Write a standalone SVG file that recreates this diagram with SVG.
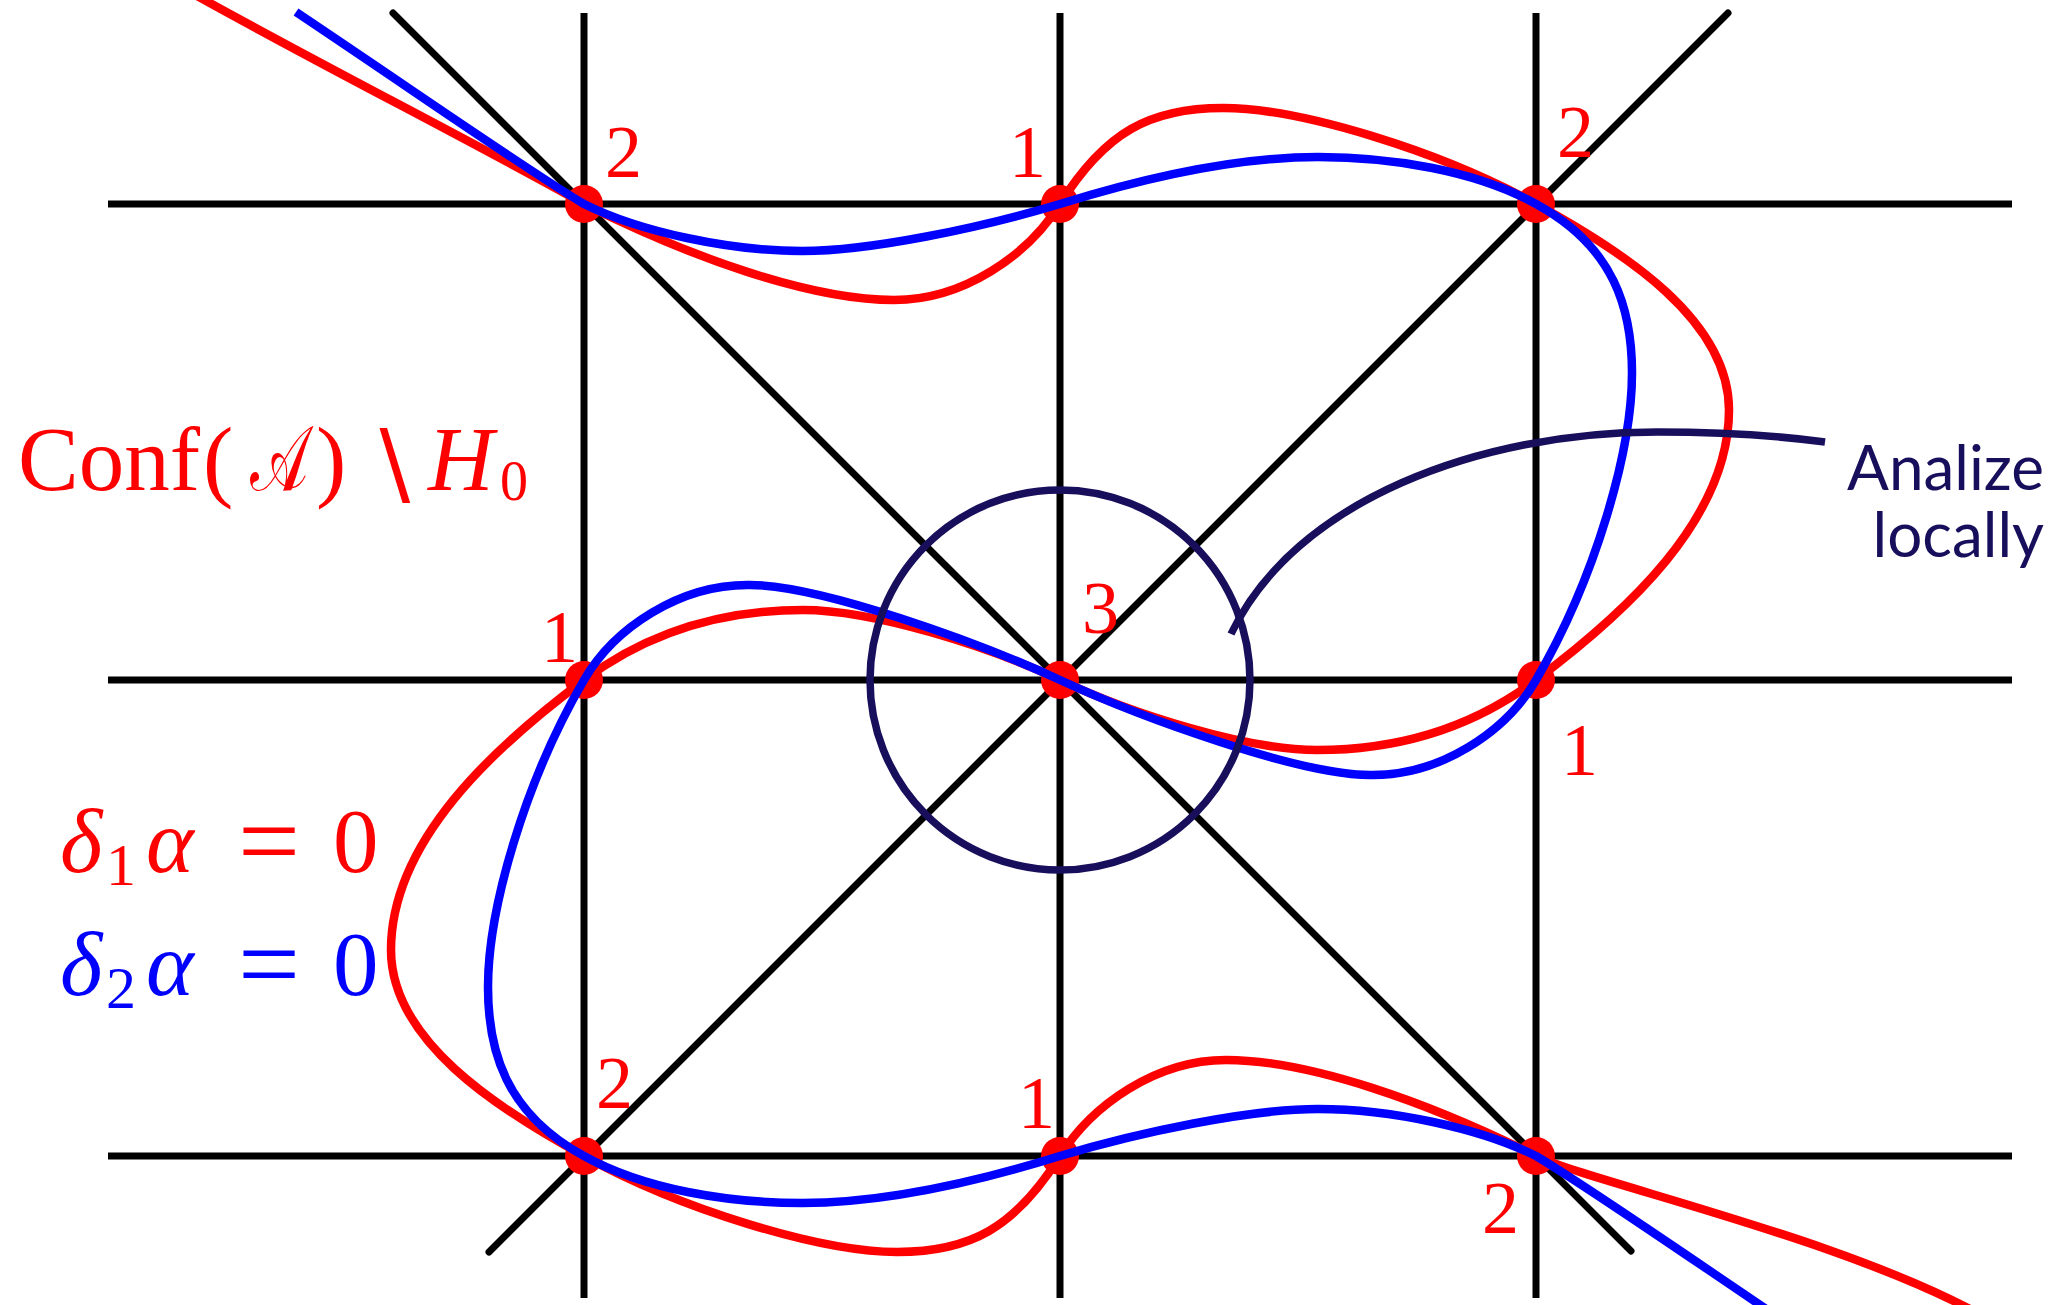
<svg xmlns="http://www.w3.org/2000/svg" width="2071" height="1305" viewBox="0 0 2071 1305">
<style>
.grid{stroke:#000;stroke-width:7;fill:none}
.diag{stroke:#000;stroke-width:7;fill:none;stroke-linecap:round}
.red{stroke:#ff0000;stroke-width:8.5;fill:none}
.blue{stroke:#0000ff;stroke-width:8.5;fill:none}
.navy{stroke:#170f5c;stroke-width:7.5;fill:none}
.dot{fill:#ff0000}
.lab{font-family:"Liberation Serif","DejaVu Serif",serif;font-size:74px;fill:#ff0000}
.math{font-family:"Liberation Serif","DejaVu Serif",serif;font-size:91px}
.note{font-family:Lato,"Open Sans",sans-serif;font-size:62px;fill:#170f5c;text-anchor:end}
</style>
<rect width="2071" height="1305" fill="#fff"/>
<g id="lines">
<line class="grid" x1="584" y1="13" x2="584" y2="1298"/>
<line class="grid" x1="1060" y1="13" x2="1060" y2="1298"/>
<line class="grid" x1="1536" y1="13" x2="1536" y2="1298"/>
<line class="grid" x1="108" y1="204" x2="2012" y2="204"/>
<line class="grid" x1="108" y1="680" x2="2012" y2="680"/>
<line class="grid" x1="108" y1="1156" x2="2012" y2="1156"/>
<line class="diag" x1="393" y1="13" x2="1631" y2="1251"/>
<line class="diag" x1="1728" y1="13" x2="489" y2="1252"/>
</g>
<g id="points">
<circle class="dot" cx="584" cy="204" r="19"/>
<circle class="dot" cx="1060" cy="204" r="19"/>
<circle class="dot" cx="1536" cy="204" r="19"/>
<circle class="dot" cx="584" cy="680" r="19"/>
<circle class="dot" cx="1060" cy="680" r="19"/>
<circle class="dot" cx="1536" cy="680" r="19"/>
<circle class="dot" cx="584" cy="1156" r="19"/>
<circle class="dot" cx="1060" cy="1156" r="19"/>
<circle class="dot" cx="1536" cy="1156" r="19"/>
</g>
<g id="curves">
<path class="red" d="M190,-8 C330,70 470,140 584,204 C690,257 810,300 894,300 C964,300 1028,255 1060,204 C1105,132 1150,108 1223,108 C1300,108 1440,151 1536,204 C1624,252 1729,320 1729,410 C1729,520 1624,614 1536,680 C1464,734 1387,750 1317,750 C1247,750 1132,714 1060,680 C988,646 873,610 803,610 C733,610 656,626 584,680 C496,746 391,840 391,950 C391,1040 496,1108 584,1156 C680,1209 820,1252 897,1252 C970,1252 1015,1228 1060,1156 C1092,1105 1156,1060 1226,1060 C1310,1060 1430,1103 1536,1156 C1600,1185 1850,1240 1990,1320"/>
<path class="blue" d="M296,12 C420,95 530,172 584,204 C640,232 730,251 802,251 C870,251 980,228 1060,204 C1150,176 1240,157 1318,157 C1390,157 1475,170 1536,204 C1615,247 1632,310 1632,373 C1632,450 1596,577 1536,680 C1506,732 1440,776 1370,775 C1300,775 1142,718 1060,680 C978,642 820,585 750,585 C680,584 614,628 584,680 C524,783 488,910 488,987 C488,1050 505,1113 584,1156 C645,1190 730,1203 802,1203 C880,1203 970,1184 1060,1156 C1140,1132 1250,1109 1318,1109 C1390,1109 1480,1128 1536,1156 C1590,1188 1700,1265 1824,1348"/>
</g>
<g id="local">
<circle class="navy" cx="1060" cy="680" r="190"/>
<path class="navy" stroke-width="8.5" d="M1231,634 C1295,500 1480,432 1657,432 C1720,432 1780,436 1825,442"/>
</g>
<g id="labels">
<text class="lab" x="605" y="177">2</text>
<text class="lab" x="1009" y="177">1</text>
<text class="lab" x="1557" y="157">2</text>
<text class="lab" x="541" y="662">1</text>
<text class="lab" x="1082" y="633">3</text>
<text class="lab" x="1561" y="775">1</text>
<text class="lab" x="596" y="1108">2</text>
<text class="lab" x="1018" y="1128">1</text>
<text class="lab" x="1482" y="1233">2</text>
</g>
<g id="titles">
<text class="math" fill="#ff0000" y="490"><tspan x="18">Conf</tspan><tspan x="203">(</tspan></text>
<text class="math" fill="#ff0000" x="250" y="490" font-size="78" textLength="58" lengthAdjust="spacingAndGlyphs">𝒜</text>
<text class="math" fill="#ff0000" x="316" y="490">)</text>
<text class="math" fill="#ff0000" x="362" y="498" font-family="DejaVu Sans" font-weight="200" font-size="100">∖</text>
<text class="math" fill="#ff0000" y="490"><tspan x="428" font-style="italic">H</tspan><tspan x="500" font-size="56" dy="10">0</tspan></text>
<text class="math" fill="#ff0000" font-size="94" y="872"><tspan x="60" font-style="italic">δ</tspan><tspan x="106" font-size="60" dy="13">1</tspan><tspan x="146" dy="-13" font-style="italic">α</tspan><tspan x="238" font-size="110" dy="6">=</tspan><tspan x="333" dy="-6">0</tspan></text>
<text class="math" fill="#0000ff" font-size="94" y="995"><tspan x="60" font-style="italic">δ</tspan><tspan x="106" font-size="60" dy="13">2</tspan><tspan x="146" dy="-13" font-style="italic">α</tspan><tspan x="238" font-size="110" dy="6">=</tspan><tspan x="333" dy="-6">0</tspan></text>
<text class="note" x="2044" y="490">Analize</text>
<text class="note" x="2044" y="557">locally</text>
</g>
</svg>
